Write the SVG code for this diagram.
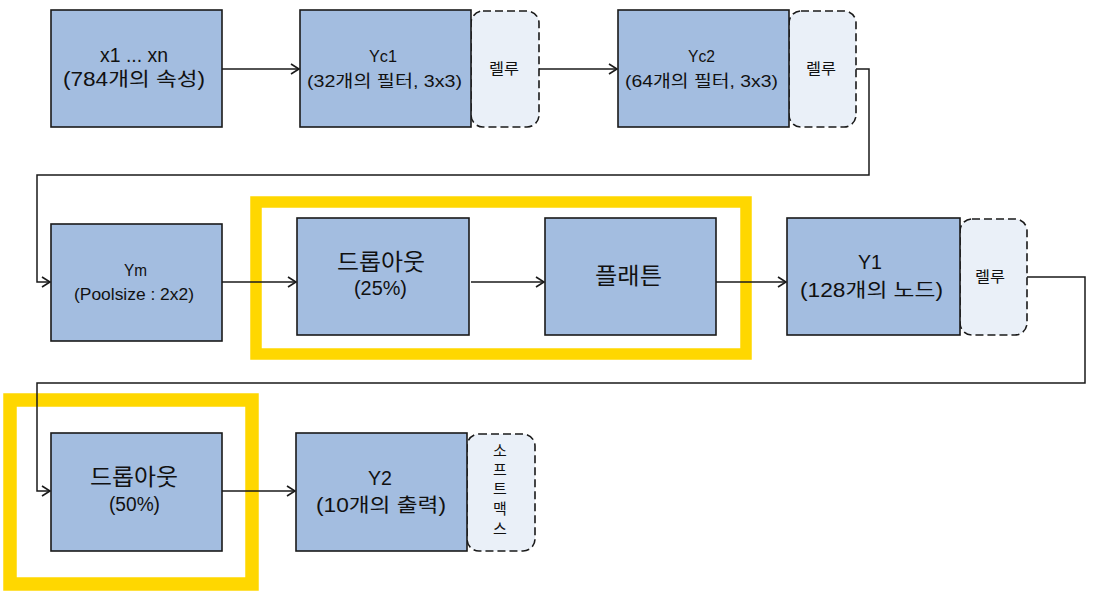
<svg xmlns="http://www.w3.org/2000/svg" width="1097" height="597" viewBox="0 0 1097 597">
<style>
.box{fill:#a3bde0;stroke:#1a1a1a;stroke-width:1.6}
.act{fill:#eaf0f8;stroke:#1a1a1a;stroke-width:1.6;stroke-dasharray:8 4}
.hl{fill:none;stroke:#ffd700}
.c{fill:none;stroke:#1a1a1a;stroke-width:1.5}
text{font-family:"Liberation Sans","Noto Sans CJK KR",sans-serif;fill:#111;text-anchor:middle}
.s16{font-size:16.5px}
.s19{font-size:19.5px}
.s22{font-size:23px}
.s14{font-size:15px}
</style>
<defs>
<marker id="ah" markerWidth="12" markerHeight="12" refX="10" refY="6" orient="auto" markerUnits="userSpaceOnUse">
<path d="M2,1 L10,6 L2,11" fill="none" stroke="#1a1a1a" stroke-width="1.6"/>
</marker>
</defs>
<rect fill="#fff" x="0" y="0" width="1097" height="597"/>
<g id="highlight1"><rect class="hl" x="256" y="202" width="490" height="152" stroke-width="11.5"/></g>
<g id="highlight2"><rect class="hl" x="10" y="400" width="242" height="184" stroke-width="13.5"/></g>
<g id="connectors">
<path class="c" d="M222,69 H299" marker-end="url(#ah)"/>
<path class="c" d="M539,69 H617" marker-end="url(#ah)"/>
<path class="c" d="M856,69 H869 V175 H37 V282 H50" marker-end="url(#ah)"/>
<path class="c" d="M222,282 H296" marker-end="url(#ah)"/>
<path class="c" d="M471,282 H544" marker-end="url(#ah)"/>
<path class="c" d="M715,282 H786" marker-end="url(#ah)"/>
<path class="c" d="M1027,277 H1085 V383 H37 V491 H50" marker-end="url(#ah)"/>
<path class="c" d="M222,491 H295" marker-end="url(#ah)"/>
</g>
<g id="input">
<rect class="box" x="51" y="10" width="171" height="117"/>
<text class="s19" x="134" y="62" textLength="68" lengthAdjust="spacingAndGlyphs">x1 ... xn</text>
<text class="s19" x="134" y="86" textLength="142" lengthAdjust="spacingAndGlyphs">(784개의 속성)</text>
</g>
<g id="yc1">
<rect class="act" x="471" y="11" width="68" height="116" rx="12"/>
<rect class="box" x="300" y="10" width="171" height="117"/>
<text class="s16" x="383" y="62" textLength="28" lengthAdjust="spacingAndGlyphs">Yc1</text>
<text class="s16" x="384.5" y="87" textLength="155" lengthAdjust="spacingAndGlyphs">(32개의 필터, 3x3)</text>
<text class="s14" x="504" y="74" textLength="30" lengthAdjust="spacingAndGlyphs">렐루</text>
</g>
<g id="yc2">
<rect class="act" x="789" y="11" width="67" height="116" rx="12"/>
<rect class="box" x="618" y="10" width="171" height="117"/>
<text class="s16" x="701.5" y="62" textLength="27" lengthAdjust="spacingAndGlyphs">Yc2</text>
<text class="s16" x="701.5" y="87" textLength="153" lengthAdjust="spacingAndGlyphs">(64개의 필터, 3x3)</text>
<text class="s14" x="821" y="74" textLength="30" lengthAdjust="spacingAndGlyphs">렐루</text>
</g>
<g id="ym">
<rect class="box" x="51" y="224" width="171" height="117"/>
<text class="s16" x="135.5" y="276" textLength="23" lengthAdjust="spacingAndGlyphs">Ym</text>
<text class="s16" x="134" y="300" textLength="120" lengthAdjust="spacingAndGlyphs">(Poolsize : 2x2)</text>
</g>
<g id="dropout1">
<rect class="box" x="297" y="218" width="172" height="117"/>
<text class="s22" x="381" y="270" textLength="88" lengthAdjust="spacingAndGlyphs">드롭아웃</text>
<text class="s19" x="380.5" y="295" textLength="53" lengthAdjust="spacingAndGlyphs">(25%)</text>
</g>
<g id="flatten">
<rect class="box" x="545" y="218" width="171" height="117"/>
<text class="s22" x="628.5" y="284" textLength="67" lengthAdjust="spacingAndGlyphs">플래튼</text>
</g>
<g id="y1">
<rect class="act" x="960" y="219" width="67" height="116" rx="12"/>
<rect class="box" x="787" y="218" width="173" height="117"/>
<text class="s19" x="870" y="269" textLength="24" lengthAdjust="spacingAndGlyphs">Y1</text>
<text class="s19" x="871.5" y="297" textLength="143" lengthAdjust="spacingAndGlyphs">(128개의 노드)</text>
<text class="s14" x="990" y="282" textLength="30" lengthAdjust="spacingAndGlyphs">렐루</text>
</g>
<g id="dropout2">
<rect class="box" x="51" y="433" width="171" height="118"/>
<text class="s22" x="134" y="485" textLength="88" lengthAdjust="spacingAndGlyphs">드롭아웃</text>
<text class="s19" x="134.5" y="511" textLength="51" lengthAdjust="spacingAndGlyphs">(50%)</text>
</g>
<g id="y2">
<rect class="act" x="467" y="434" width="68" height="117" rx="12"/>
<rect class="box" x="296" y="433" width="171" height="118"/>
<text class="s19" x="380" y="485" textLength="24" lengthAdjust="spacingAndGlyphs">Y2</text>
<text class="s19" x="381" y="512" textLength="130" lengthAdjust="spacingAndGlyphs">(10개의 출력)</text>
<text class="s14" x="500" y="456">소</text>
<text class="s14" x="500" y="475">프</text>
<text class="s14" x="500" y="494">트</text>
<text class="s14" x="500" y="514">맥</text>
<text class="s14" x="500" y="534">스</text>
</g>
</svg>
